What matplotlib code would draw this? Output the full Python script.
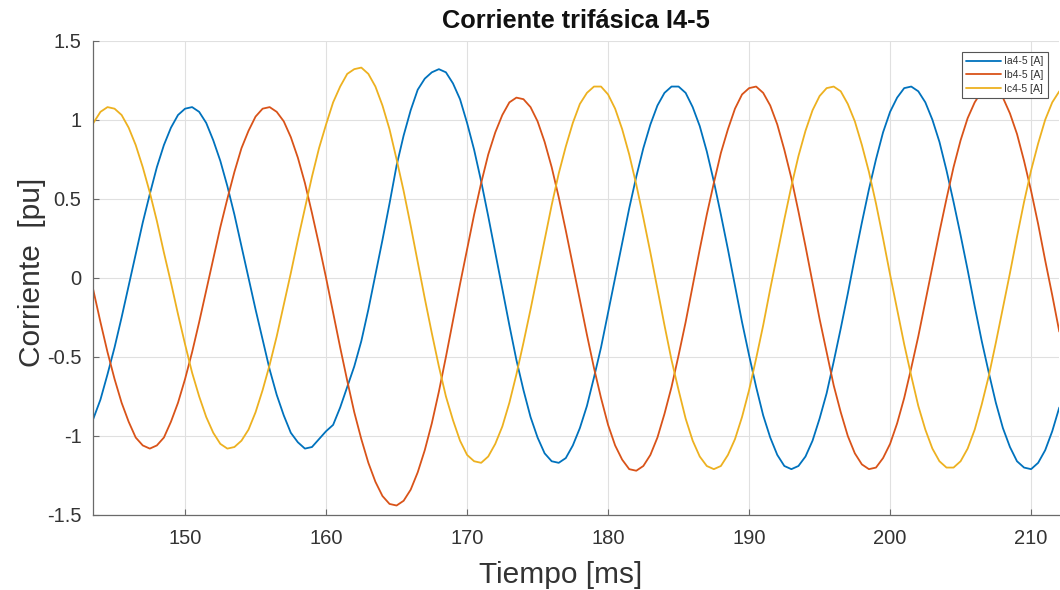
import numpy as np
import matplotlib
matplotlib.use('Agg')
import matplotlib.pyplot as plt

# ---- data ----
t_ms = np.arange(143.0, 212.01, 0.5)   # sample times [ms]

ia = [-0.99, -0.89, -0.77, -0.61, -0.44, -0.25, -0.05, 0.15, 0.35, 0.53, 0.70, 0.84, 0.95, 1.03, 1.07,
      1.08, 1.05, 0.98, 0.87, 0.74, 0.58, 0.40, 0.20, 0.00, -0.20, -0.39, -0.58, -0.74, -0.87, -0.98,
      -1.04, -1.08, -1.07, -1.02, -0.97, -0.93, -0.82, -0.69, -0.56, -0.40, -0.20, 0.02, 0.24, 0.47, 0.71,
      0.90, 1.06, 1.19, 1.26, 1.30, 1.32, 1.30, 1.23, 1.13, 0.98, 0.81, 0.61, 0.39, 0.16, -0.07,
      -0.30, -0.52, -0.71, -0.88, -1.01, -1.11, -1.16, -1.17, -1.14, -1.06, -0.95, -0.81, -0.63, -0.44, -0.22,
      -0.00, 0.22, 0.44, 0.64, 0.82, 0.97, 1.09, 1.17, 1.21, 1.21, 1.17, 1.08, 0.96, 0.80, 0.61,
      0.40, 0.18, -0.05, -0.28, -0.49, -0.69, -0.87, -1.01, -1.12, -1.19, -1.21, -1.19, -1.13, -1.03, -0.89,
      -0.73, -0.53, -0.32, -0.10, 0.13, 0.35, 0.56, 0.75, 0.92, 1.05, 1.14, 1.20, 1.21, 1.18, 1.11,
      1.00, 0.86, 0.68, 0.48, 0.27, 0.05, -0.18, -0.40, -0.60, -0.79, -0.95, -1.07, -1.16, -1.20, -1.21,
      -1.17, -1.09, -0.97, -0.82]

ib = [0.12, -0.08, -0.28, -0.47, -0.64, -0.79, -0.91, -1.01, -1.06, -1.08, -1.06, -1.01, -0.91, -0.79, -0.64,
      -0.47, -0.28, -0.08, 0.12, 0.32, 0.50, 0.67, 0.82, 0.93, 1.02, 1.07, 1.08, 1.05, 0.99, 0.89,
      0.76, 0.60, 0.41, 0.21, -0.00, -0.22, -0.44, -0.65, -0.85, -1.02, -1.17, -1.29, -1.38, -1.43, -1.44,
      -1.41, -1.34, -1.23, -1.09, -0.92, -0.72, -0.50, -0.27, -0.04, 0.18, 0.40, 0.60, 0.78, 0.92, 1.03,
      1.11, 1.14, 1.13, 1.08, 0.99, 0.86, 0.70, 0.51, 0.30, 0.08, -0.14, -0.36, -0.57, -0.76, -0.93,
      -1.06, -1.15, -1.21, -1.22, -1.19, -1.12, -1.01, -0.86, -0.69, -0.49, -0.28, -0.05, 0.18, 0.40, 0.60,
      0.79, 0.94, 1.07, 1.16, 1.20, 1.21, 1.17, 1.09, 0.97, 0.81, 0.63, 0.42, 0.20, -0.03, -0.26,
      -0.47, -0.68, -0.85, -1.00, -1.11, -1.18, -1.21, -1.20, -1.14, -1.05, -0.92, -0.76, -0.57, -0.37, -0.15,
      0.07, 0.29, 0.50, 0.70, 0.87, 1.01, 1.11, 1.18, 1.21, 1.20, 1.14, 1.04, 0.91, 0.74, 0.55,
      0.34, 0.11, -0.11, -0.34]

ic = [0.88, 0.98, 1.05, 1.08, 1.07, 1.03, 0.95, 0.84, 0.70, 0.54, 0.36, 0.16, -0.03, -0.23, -0.42,
      -0.60, -0.75, -0.88, -0.98, -1.05, -1.08, -1.07, -1.03, -0.96, -0.85, -0.71, -0.55, -0.37, -0.17, 0.03,
      0.24, 0.44, 0.64, 0.82, 0.97, 1.11, 1.21, 1.29, 1.32, 1.33, 1.29, 1.21, 1.09, 0.94, 0.75,
      0.55, 0.33, 0.10, -0.13, -0.35, -0.56, -0.75, -0.90, -1.03, -1.12, -1.16, -1.17, -1.13, -1.05, -0.94,
      -0.79, -0.61, -0.41, -0.20, 0.02, 0.24, 0.46, 0.66, 0.83, 0.98, 1.10, 1.17, 1.21, 1.21, 1.16,
      1.07, 0.94, 0.78, 0.59, 0.38, 0.16, -0.07, -0.30, -0.52, -0.71, -0.89, -1.03, -1.13, -1.19, -1.21,
      -1.19, -1.12, -1.02, -0.88, -0.71, -0.51, -0.30, -0.07, 0.15, 0.37, 0.58, 0.77, 0.93, 1.06, 1.15,
      1.20, 1.21, 1.18, 1.10, 0.99, 0.84, 0.67, 0.47, 0.25, 0.02, -0.20, -0.42, -0.62, -0.81, -0.96,
      -1.08, -1.16, -1.20, -1.20, -1.16, -1.08, -0.96, -0.80, -0.62, -0.41, -0.19, 0.03, 0.26, 0.48, 0.68,
      0.85, 1.00, 1.11, 1.18]

series_labels = ['Ia4-5 [A]', 'Ib4-5 [A]', 'Ic4-5 [A]']
series_colors = ['#0072BD', '#D95319', '#EDB120']
x_ticks = [150, 160, 170, 180, 190, 200, 210]
y_ticks = [-1.5, -1, -0.5, 0, 0.5, 1, 1.5]
y_tick_labels = ['-1.5', '-1', '-0.5', '0', '0.5', '1', '1.5']

# ---- figure ----
plt.rcParams['font.family'] = ['Liberation Sans', 'DejaVu Sans']
fig = plt.figure(figsize=(10.6, 5.9), dpi=100)
ax = fig.add_axes([92.7 / 1060, 1 - 515 / 590, (1059.3 - 92.7) / 1060, (515 - 40.7) / 590])

for vals, lab, col in zip([ia, ib, ic], series_labels, series_colors):
    ax.plot(t_ms, vals, color=col, lw=1.3, label=lab,
            solid_joinstyle='round', solid_capstyle='round')

ax.set_xlim(143.45, 212.0)
ax.set_ylim(-1.5, 1.5)
ax.set_xticks(x_ticks)
ax.set_yticks(y_ticks)
ax.set_yticklabels(y_tick_labels)

ax.grid(True, color='#e0e0e0', lw=0.8)
ax.set_axisbelow(True)
for s in ['top', 'right']:
    ax.spines[s].set_visible(False)
for s in ['left', 'bottom']:
    ax.spines[s].set_color('#6a6a6a')
    ax.spines[s].set_linewidth(0.9)

ax.tick_params(direction='in', length=4, width=0.8, color='#6a6a6a',
               labelsize=14.5, labelcolor='#333333')
ax.tick_params(axis='x', pad=10)
ax.tick_params(axis='y', pad=8)

ax.set_title('Corriente trifásica I4-5', fontsize=18.3, fontweight='bold', color='#111111', pad=9)
ax.set_xlabel('Tiempo [ms]', fontsize=21.5, color='#333333')
ax.set_ylabel('Corriente  [pu]', fontsize=21.5, color='#333333')
ax.xaxis.set_label_coords((561 - 92.7) / 966.6, (515 - 561) / 474.3)
ax.yaxis.set_label_coords((46 - 92.7) / 966.6, (515 - 272) / 474.3)

leg = ax.legend(loc='upper right', fontsize=7.5, frameon=True, fancybox=False,
                edgecolor='#555555', framealpha=1, handlelength=3.4, handletextpad=0.3,
                labelspacing=0.35, borderpad=0.4, borderaxespad=1.1)
leg.get_frame().set_linewidth(0.8)
for txt in leg.get_texts():
    txt.set_color('#333333')

fig.savefig('out.png', dpi=100)
